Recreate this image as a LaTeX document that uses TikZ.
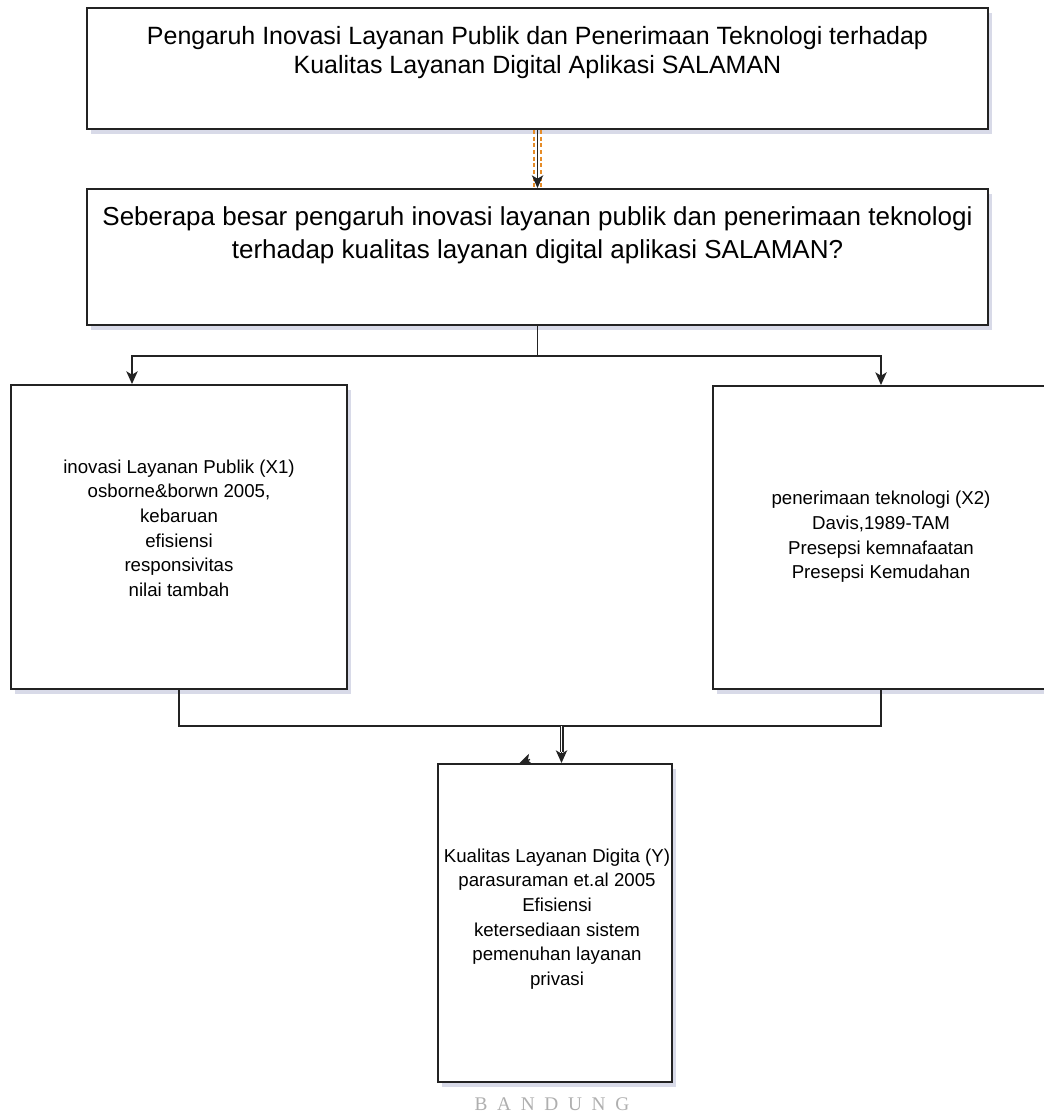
\documentclass[tikz,border=0pt]{standalone}
\usepackage{fontspec}
\setmainfont{Liberation Sans}
\newfontfamily\wmfont{Liberation Serif}
\usetikzlibrary{arrows.meta,shadows,calc}
\definecolor{ln}{RGB}{35,35,35}
\definecolor{shd}{RGB}{212,214,230}
\definecolor{orng}{RGB}{230,140,40}
\definecolor{wmc}{RGB}{175,175,175}
\tikzset{
  box/.style={draw=ln, line width=1.5pt, fill=white, inner sep=0pt,
    drop shadow={shadow xshift=3pt, shadow yshift=-4pt, fill=shd, opacity=0.9}},
  toptxt/.style={align=center, inner sep=0pt, font=\fontsize{18.75}{21.75}\selectfont},
  qtxt/.style={align=center, inner sep=0pt, font=\fontsize{19.5}{24.75}\selectfont},
  sidetxt/.style={align=center, inner sep=0pt, font=\fontsize{14}{18.5}\selectfont},
  conn/.style={draw=ln, line width=1pt},
  arr/.style={conn, -{Stealth[length=9.5pt,width=8.5pt,inset=2.5pt]}},
  odash/.style={draw=orng, line width=1pt, dash pattern=on 3pt off 2pt},
}
\begin{document}
\begin{tikzpicture}[x=0.75pt,y=-0.75pt]
\useasboundingbox (0,0) rectangle (1044,1117);
\fill[white] (0,0) rectangle (1044,1117);

% boxes
\node[box, minimum width=675.75pt, minimum height=90.75pt] (b1) at (537.5,68.5) {};
\node[box, minimum width=675.75pt, minimum height=102pt] (b2) at (537.5,257) {};
\node[box, minimum width=252pt, minimum height=228pt] (lb) at (179,537) {};
\node[box, minimum width=252pt, minimum height=227.25pt] (rb) at (881,537.5) {};
\node[box, minimum width=175.5pt, minimum height=238.5pt] (bb) at (555,923) {};

% texts
\node[toptxt] (t1) at (537.5,52.5) {Pengaruh Inovasi Layanan Publik dan Penerimaan Teknologi terhadap\\Kualitas Layanan Digital Aplikasi SALAMAN};
\node[qtxt] (t2) at (537.5,235.5) {Seberapa besar pengaruh inovasi layanan publik dan penerimaan teknologi\\terhadap kualitas layanan digital aplikasi SALAMAN?};
\node[sidetxt] (tl) at (179,528) {inovasi Layanan Publik (X1)\\osborne\&borwn 2005,\\kebaruan\\efisiensi\\responsivitas\\nilai tambah};
\node[sidetxt] (tr) at (881,537) {penerimaan teknologi (X2)\\Davis,1989-TAM\\Presepsi kemnafaatan\\Presepsi Kemudahan};
\node[sidetxt] (tb) at (557,919) {Kualitas Layanan Digita (Y)\\parasuraman et.al 2005\\Efisiensi\\ketersediaan sistem\\pemenuhan layanan\\privasi};

% top connector with orange dashed companions
\draw[odash] ([xshift=-2.6pt]b1.south) -- ([xshift=-2.6pt]b2.north);
\draw[odash] ([xshift=2.6pt]b1.south) -- ([xshift=2.6pt]b2.north);
\draw[arr] (b1.south) -- (b2.north);

% split connector
\coordinate (jn) at (537.5,356);
\coordinate (lx) at (132,0);
\coordinate (rx) at (881,0);
\draw[arr] (b2.south) -- (jn) -| (lb.north -| lx);
\draw[arr] (jn) -| (rb.north -| rx);

% merge connector
\coordinate (hy) at (0,726);
\draw[conn] (lb.south) -- (lb.south |- hy) -- (rb.south |- hy) -- (rb.south);
\coordinate (dj) at (561.5,726);
\coordinate (dk) at (561.5,752);
\draw[draw=ln, line width=0.8pt, double=white, double distance=1.4pt] (dj) -- (dk);
\draw[arr] (dk) -- (bb.north -| dj);

% stray small arrowhead
\coordinate (sa) at (530,759.5);
\coordinate (sb) at (519,763.5);
\draw[arr] (sa) -- (sb);

% watermark
\node[font=\wmfont\fontsize{14.5}{14.5}\selectfont, text=wmc, inner sep=0pt] (wm) at (552,1104) {B\,\,\,A\,\,\,N\,\,\,D\,\,\,U\,\,\,N\,\,\,G};
\end{tikzpicture}
\end{document}
